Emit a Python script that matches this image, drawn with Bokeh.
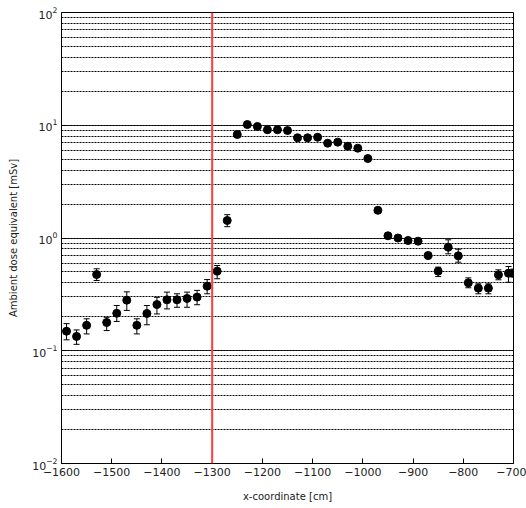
from bokeh.plotting import figure
from bokeh.models import (ColumnDataSource, Whisker, TeeHead, Span, LogTicker, FixedTicker, Range1d)
from bokeh.embed import file_html
from bokeh.resources import INLINE

x_cm = [-1590, -1570, -1550, -1530, -1510, -1490, -1470, -1450, -1430, -1410,
        -1390, -1370, -1350, -1330, -1310, -1290, -1270, -1250, -1230, -1210,
        -1190, -1170, -1150, -1130, -1110, -1090, -1070, -1050, -1030, -1010,
        -990, -970, -950, -930, -910, -890, -870, -850, -830, -810,
        -790, -770, -750, -730, -710, -700]
dose = [0.149, 0.134, 0.168, 0.474, 0.178, 0.215, 0.281, 0.168, 0.214, 0.257,
        0.283, 0.283, 0.291, 0.299, 0.374, 0.508, 1.43, 8.28, 10.15, 9.75,
        9.12, 9.12, 8.98, 7.74, 7.74, 7.83, 6.93, 7.08, 6.52, 6.26,
        5.07, 1.76, 1.046, 1.00, 0.95, 0.937, 0.70, 0.508, 0.829, 0.695,
        0.40, 0.359, 0.359, 0.471, 0.487, 0.487]
dose_hi = [0.174, 0.153, 0.192, 0.533, 0.198, 0.252, 0.333, 0.192, 0.252, 0.298,
           0.331, 0.32, 0.331, 0.343, 0.428, 0.57, 1.61, 8.7, 10.6, 10.2,
           9.5, 9.5, 9.4, 8.1, 8.1, 8.2, 7.25, 7.4, 6.8, 6.55,
           5.3, 1.86, 1.1, 1.05, 1.0, 0.99, 0.74, 0.551, 0.964, 0.795,
           0.443, 0.392, 0.392, 0.522, 0.559, 0.53]
dose_lo = [0.125, 0.114, 0.141, 0.42, 0.151, 0.182, 0.228, 0.141, 0.17, 0.212,
           0.235, 0.243, 0.243, 0.256, 0.32, 0.435, 1.26, 7.9, 9.7, 9.3,
           8.7, 8.7, 8.6, 7.4, 7.4, 7.5, 6.6, 6.75, 6.2, 5.95,
           4.85, 1.66, 0.99, 0.95, 0.9, 0.89, 0.66, 0.455, 0.724, 0.61,
           0.362, 0.32, 0.32, 0.426, 0.405, 0.45]
x_ticks = [-1600, -1500, -1400, -1300, -1200, -1100, -1000, -900, -800, -700]
boundary_x = -1300

src = ColumnDataSource(dict(x=x_cm, y=dose, hi=dose_hi, lo=dose_lo))

p = figure(width=526, height=508, y_axis_type="log", output_backend="svg",
           toolbar_location=None, x_range=Range1d(-1600, -700), y_range=Range1d(0.01, 100),
           min_border_left=61, min_border_right=13, min_border_top=12, min_border_bottom=45)
p.outline_line_color = "black"
p.outline_line_width = 1
p.background_fill_color = "white"
p.border_fill_color = "white"

p.xgrid.visible = False
p.ygrid.grid_line_color = "black"
p.ygrid.grid_line_dash = "2 1"
p.ygrid.grid_line_width = 1
p.ygrid.minor_grid_line_color = "black"
p.ygrid.minor_grid_line_dash = "2 1"
p.ygrid.minor_grid_line_width = 1
p.yaxis.ticker = LogTicker(num_minor_ticks=10)

for ax in (p.xaxis[0], p.yaxis[0]):
    ax.axis_line_color = "black"
    ax.major_tick_in = 5
    ax.major_tick_out = 0
    ax.minor_tick_in = 0
    ax.minor_tick_out = 0
    ax.major_label_text_font = "DejaVu Sans"
    ax.major_label_text_font_size = "11px"
    ax.major_label_text_color = "#222222"
    ax.axis_label_text_font = "DejaVu Sans"
    ax.axis_label_text_font_size = "10px"
    ax.axis_label_text_font_style = "normal"
    ax.axis_label_text_color = "#222222"
p.xaxis.ticker = FixedTicker(ticks=x_ticks)
p.xaxis.axis_label = "x-coordinate [cm]"
p.xaxis.axis_label_standoff = 12
p.xaxis.major_label_standoff = 4
p.yaxis.axis_label = "Ambient dose equivalent [mSv]"
p.yaxis.axis_label_standoff = 10
p.yaxis.major_label_standoff = 4

p.add_layout(Span(location=boundary_x, dimension="height", line_color="#ff3b3b", line_width=2))

w = Whisker(source=src, base="x", upper="hi", lower="lo", line_color="black", line_width=1,
            upper_head=TeeHead(size=6, line_color="black", line_width=1),
            lower_head=TeeHead(size=6, line_color="black", line_width=1))
p.add_layout(w)
p.scatter("x", "y", source=src, size=8, color="black")

open("out.html", "w").write(file_html(p, INLINE))
